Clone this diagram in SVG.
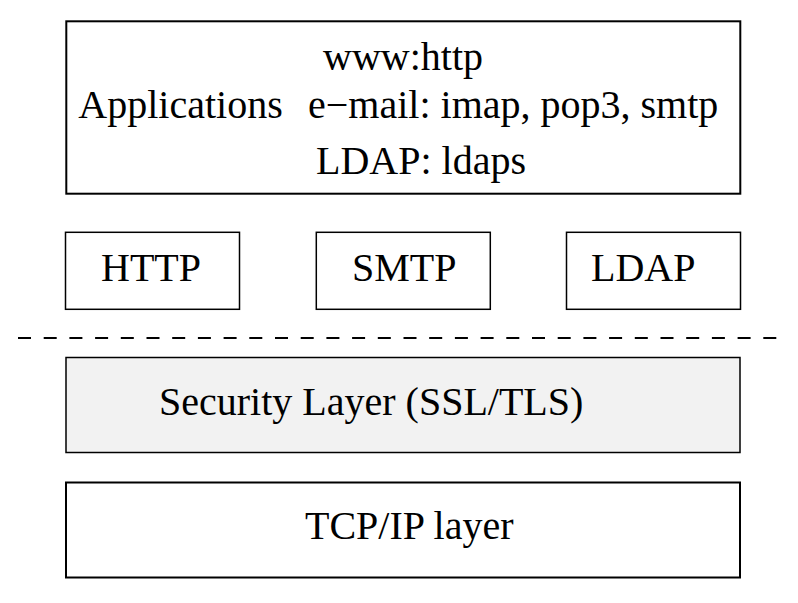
<svg xmlns="http://www.w3.org/2000/svg" width="798" height="603" viewBox="0 0 798 603">
<style>
  .box { fill: #ffffff; stroke: #000000; }
  .t { font-family: "Liberation Serif", "Times New Roman", serif; font-size: 40px; fill: #000000; }
</style>
<rect x="0" y="0" width="798" height="603" fill="#ffffff"/>
<g id="applications">
  <rect class="box" x="66.3" y="21.3" width="674" height="172.4" stroke-width="2"/>
  <text class="t" x="323" y="70">www:http</text>
  <text class="t" x="78.3" y="118">Applications</text>
  <text class="t" x="308" y="118">e−mail: imap, pop3, smtp</text>
  <text class="t" x="316" y="174">LDAP: ldaps</text>
</g>
<g id="http">
  <rect class="box" x="65.5" y="232.3" width="174" height="77" stroke-width="1.5"/>
  <text class="t" x="101" y="281">HTTP</text>
</g>
<g id="smtp">
  <rect class="box" x="316.3" y="232.3" width="174" height="77" stroke-width="1.5"/>
  <text class="t" x="352" y="281">SMTP</text>
</g>
<g id="ldap">
  <rect class="box" x="566.5" y="232.3" width="174" height="77" stroke-width="1.5"/>
  <text class="t" x="591" y="281">LDAP</text>
</g>
<g id="connectors">
  <line x1="18" y1="338" x2="777" y2="338" stroke="#000000" stroke-width="2" stroke-dasharray="13 12.7"/>
</g>
<g id="security">
  <rect x="66" y="357.5" width="674" height="95" fill="#f2f2f2" stroke="#000000" stroke-width="1.5"/>
  <text class="t" x="159" y="415">Security Layer (SSL/TLS)</text>
</g>
<g id="tcpip">
  <rect class="box" x="66" y="482.5" width="674" height="95" stroke-width="2"/>
  <text class="t" x="305" y="539">TCP/IP layer</text>
</g>
</svg>
